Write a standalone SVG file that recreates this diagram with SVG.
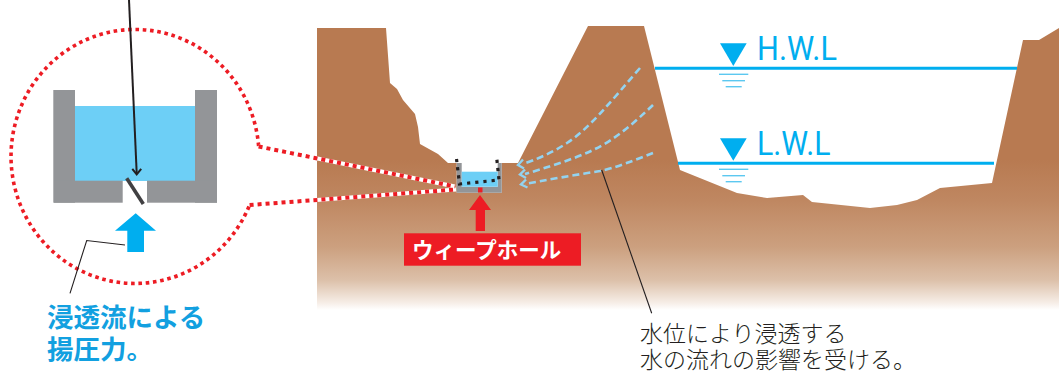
<svg xmlns="http://www.w3.org/2000/svg" width="1059" height="376" viewBox="0 0 1059 376">
  <style>
    .ground { fill: url(#soil); }
    .wall { fill: #939598; }
    .water { fill: #6dcff6; }
    .level { stroke: #00aeef; stroke-width: 3; fill: none; }
    .ripple { stroke: #5cc8f0; stroke-width: 1.4; fill: none; }
    .mark { fill: #00aeef; }
    .lvl-text { font-family: Roboto, "Liberation Sans", sans-serif; font-size: 33px; fill: #00aeef; }
    .seep { stroke: #93d3f0; stroke-width: 2.6; fill: none; stroke-dasharray: 7 4; }
    .seep-head { stroke: #93d3f0; stroke-width: 2.4; fill: none; stroke-linejoin: miter; }
    .callout { stroke: #ed1c24; stroke-width: 4; fill: none; stroke-dasharray: 4 4; }
    .callout-bg { stroke: #ffffff; stroke-width: 4; fill: none; }
    .ring { stroke: #ed1c24; stroke-width: 3.6; fill: none; stroke-dasharray: 3.6 3.7; }
    .leader { stroke: #231f20; stroke-width: 1.1; fill: none; }
    .jp { font-family: "Noto Sans CJK JP", sans-serif; }
    .uplift { font-size: 26.5px; font-weight: 700; fill: #12a0e0; }
    .note { font-size: 23px; font-weight: 300; fill: #231f20; }
  </style>
  <defs>
    <linearGradient id="soil" gradientUnits="userSpaceOnUse" x1="0" y1="160" x2="0" y2="310">
      <stop offset="0" stop-color="#b87a51"/>
      <stop offset="0.27" stop-color="#bf8761"/>
      <stop offset="0.58" stop-color="#cca07f"/>
      <stop offset="0.8" stop-color="#dcc0a9"/>
      <stop offset="0.95" stop-color="#f6ede6"/>
      <stop offset="1" stop-color="#ffffff"/>
    </linearGradient>
  </defs>

  <!-- cross-section of the ground with the dam and the river bed -->
  <g id="terrain">
    <path class="ground" d="M317,28 L386,28 L390,83 L397,89 L403,100 L415,114 L418,127 L420,144 L438,154 L448,163 L456.7,163 L456.7,192.7 L501.7,192.7 L501.7,163 L518,163 L588,26 L644,26 L680,170 L737,193 L767,198 L803,195 L812,202 L870,208 L897,205 L917,200 L940,188 L992,183 L1023,40 L1039,40 L1059,28 L1059,312 L317,312 Z"/>
  </g>

  <!-- high water level -->
  <g id="hwl">
    <line class="level" x1="655" y1="68.3" x2="1017" y2="68.3"/>
    <polygon class="mark" points="720,43.3 746.7,43.3 733.3,66"/>
    <line class="ripple" x1="719" y1="74.3" x2="748.3" y2="74.3"/>
    <line class="ripple" x1="722.3" y1="80.7" x2="745" y2="80.7"/>
    <line class="ripple" x1="725.7" y1="86.7" x2="741.7" y2="86.7"/>
    <text class="lvl-text" x="757" y="60" textLength="80" lengthAdjust="spacingAndGlyphs">H.W.L</text>
  </g>

  <!-- low water level -->
  <g id="lwl">
    <line class="level" x1="678" y1="163.3" x2="994" y2="163.3"/>
    <polygon class="mark" points="720,138.3 746.7,138.3 733.3,160.7"/>
    <line class="ripple" x1="719" y1="169.3" x2="748.3" y2="169.3"/>
    <line class="ripple" x1="722.3" y1="175.7" x2="745" y2="175.7"/>
    <line class="ripple" x1="725.7" y1="181.7" x2="741.7" y2="181.7"/>
    <text class="lvl-text" x="757" y="155" textLength="73.5" lengthAdjust="spacingAndGlyphs">L.W.L</text>
  </g>

  <!-- drainage channel at the foot of the slope -->
  <g id="channel">
    <path class="wall" d="M456.7,163 L461.7,163 L461.7,186.7 L497.7,186.7 L497.7,163 L501.7,163 L501.7,192.7 L456.7,192.7 Z"/>
    <rect class="water" x="461.7" y="171.7" width="36" height="15"/>
    <rect x="478" y="187.5" width="4.5" height="5" fill="#ed1c24"/>
    <path d="M456.5,159 L459.5,184 L499,180 L496.5,156" fill="none" stroke="#231f20" stroke-width="3.2" stroke-dasharray="3.2 5"/>
  </g>

  <!-- weep hole label with pointer -->
  <g id="weep-hole-label">
    <polygon fill="#ed1c24" points="480,195 491,210 485,210 485,231 475.7,231 475.7,210 469,210"/>
    <rect x="404" y="233.3" width="177" height="32.4" fill="#ed1c24"/>
    <text class="jp" x="412" y="258" font-size="21.5" font-weight="700" fill="#ffffff">ウィープホール</text>
  </g>

  <!-- enlarged detail of the channel -->
  <g id="detail">
    <rect class="water" x="75" y="106" width="120" height="75"/>
    <rect class="wall" x="53.3" y="90" width="21.7" height="112.7"/>
    <rect class="wall" x="54" y="180.7" width="68.7" height="22"/>
    <rect class="wall" x="195" y="90" width="22" height="112.7"/>
    <rect class="wall" x="147" y="180.7" width="70" height="22"/>
    <line x1="126.7" y1="178.3" x2="143.3" y2="204" stroke="#414042" stroke-width="3.6"/>
    <polygon class="mark" points="135.7,213.3 156,230.7 144,230.7 144,252 127.3,252 127.3,230.7 115,230.7"/>
    <path class="ring" d="M258.6,146 A124,127 0 1 0 249.6,205"/>
  </g>

  <!-- callout lines, leaders and seepage flow -->
  <g id="connectors">
    <line class="callout-bg" x1="258.6" y1="146.5" x2="455" y2="186.5"/>
    <line class="callout-bg" x1="249.6" y1="205" x2="456" y2="189.5"/>
    <line class="callout" x1="258.6" y1="146.5" x2="455" y2="186.5"/>
    <line class="callout" x1="249.6" y1="205" x2="456" y2="189.5"/>

    <path d="M129,0 L136.7,173" fill="none" stroke="#231f20" stroke-width="2"/>
    <path d="M132.3,168.8 L136.7,174.3 L141.2,168.8" fill="none" stroke="#231f20" stroke-width="2"/>

    <polyline class="leader" points="125,245 86.7,240.5 70,293.3"/>
    <line class="leader" x1="601.7" y1="170" x2="651.7" y2="313.3"/>

    <path class="seep" d="M640,68 C612,100 590,128 567,143 C552,153 535,160 523,164"/>
    <path class="seep" d="M653,105 C635,122 615,140 593,150 C572,160 545,168 525,174"/>
    <path class="seep" d="M653,153 C635,160 615,168 600,171 C575,175 545,180 525,184"/>
    <path class="seep-head" d="M523,159.5 L518,165 L524,168.5"/>
    <path class="seep-head" d="M525,169.5 L520,174.5 L526,178"/>
    <path class="seep-head" d="M526,179.5 L521,184.5 L527.5,187.5"/>
  </g>

  <!-- captions -->
  <g id="captions">
    <text class="jp uplift" x="47" y="327">浸透流による</text>
    <text class="jp uplift" x="47" y="358.5">揚圧力。</text>
    <text class="jp note" x="640" y="341.5">水位により浸透する</text>
    <text class="jp note" x="640" y="368">水の流れの影響を受ける。</text>
  </g>
</svg>
